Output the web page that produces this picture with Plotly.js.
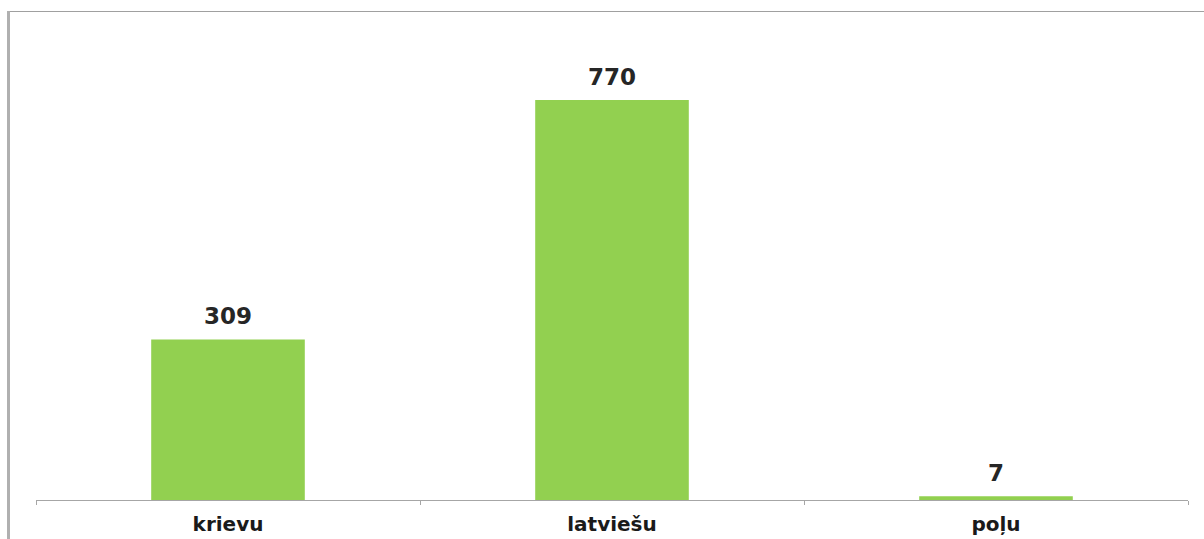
<!DOCTYPE html>
<html>
<head>
<meta charset="utf-8">
<script src="https://cdn.plot.ly/plotly-3.0.1.min.js"></script>
<style>html,body{margin:0;padding:0;background:#fff;}#chart{width:1204px;height:539px;}</style>
</head>
<body>
<div id="chart"></div>
<script>
const categories = ["krievu", "latviešu", "poļu"];
const values = [309, 770, 7];

const W = 1204, H = 539;
const mL = 36, mR = 16, mT = 12, mB = 39;
const plotW = W - mL - mR, plotH = H - mT - mB;
const px = x => (x - mL) / plotW;
const py = y => (H - mB - y) / plotH;

const FONT = 'DejaVu Sans, Verdana, sans-serif';

const trace = {
  type: 'bar',
  x: categories,
  y: values,
  width: 0.4,
  marker: {color: '#92D050'},
  hoverinfo: 'none'
};

const annotations = categories.map((c, i) => ({
  x: c, y: values[i], xref: 'x', yref: 'y',
  text: String(values[i]), showarrow: false,
  yanchor: 'bottom', yshift: 8,
  font: {family: FONT, size: 23, color: '#262626', weight: 'bold'}
}));

const layout = {
  width: W, height: H,
  margin: {l: mL, r: mR, t: mT, b: mB, pad: 0},
  paper_bgcolor: '#ffffff',
  plot_bgcolor: '#ffffff',
  showlegend: false,
  bargap: 0.6,
  xaxis: {
    type: 'category',
    showline: true, linecolor: '#a6a6a6', linewidth: 1,
    ticks: 'outside', tickson: 'boundaries', ticklen: 4, tickcolor: '#a6a6a6',
    ticklabelstandoff: 6,
    showgrid: false, zeroline: false,
    tickfont: {family: FONT, size: 20, color: '#1a1a1a', weight: 'bold'},
    fixedrange: true
  },
  yaxis: {
    range: [0, 770 * plotH / 400],
    visible: false, showgrid: false, zeroline: false, fixedrange: true
  },
  annotations: annotations,
  shapes: [
    {type: 'line', xref: 'paper', yref: 'paper', x0: px(8.5), x1: px(1204), y0: py(11.5), y1: py(11.5),
     line: {color: '#a0a0a0', width: 1}},
    {type: 'line', xref: 'paper', yref: 'paper', x0: px(8.5), x1: px(8.5), y0: py(11), y1: py(539),
     line: {color: '#b0b0b0', width: 3}}
  ]
};

Plotly.newPlot('chart', [trace], layout, {displayModeBar: false, staticPlot: true});
</script>
</body>
</html>
